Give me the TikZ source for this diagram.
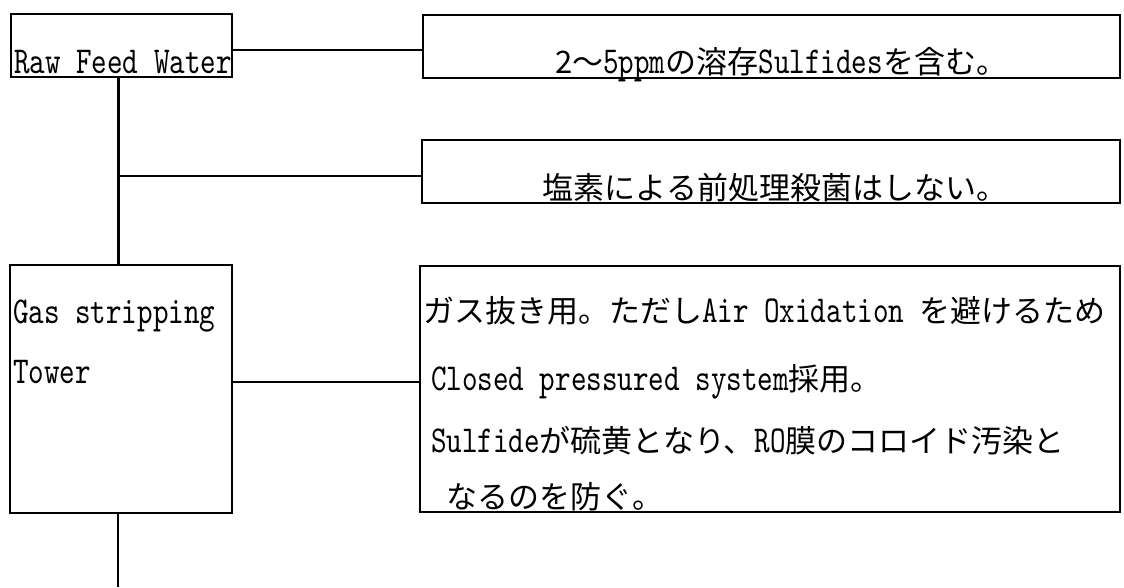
\documentclass[tikz,border=0pt]{standalone}
\usepackage{fontspec}
\setmainfont{Noto Sans CJK JP}
\newfontfamily\latf{lmmono10-regular.otf}[FakeStretch=0.78]
\newcommand\en[1]{{\latf\fontsize{38}{38}\selectfont #1}}
\newcommand\jpsize{\fontsize{31}{31}\selectfont}
\begin{document}
\begin{tikzpicture}[x=1pt,y=-1pt,
  box/.style={draw=black,line width=2.2pt,rectangle,inner sep=0pt,outer sep=0pt},
  txt/.style={inner sep=0pt,outer sep=0pt,font=\jpsize},
  conn/.style={draw=black,line width=2.2pt}]
\useasboundingbox (0,0) rectangle (1124,587);
% boxes
\node[box,minimum width=221pt,minimum height=63pt] (rfw) at (121.5,45.5) {};
\node[box,minimum width=697pt,minimum height=63pt] (b1) at (771.5,46.5) {};
\node[box,minimum width=698pt,minimum height=63pt] (b2) at (771,171.5) {};
\node[box,minimum width=222pt,minimum height=248pt] (gas) at (121,389) {};
\node[box,minimum width=700pt,minimum height=246pt] (b3) at (770,389) {};
% texts
\node[txt,anchor=base west] (t0) at (14,73) {\en{Raw Feed Water}};
\node[txt,anchor=base east] (t1) at (1007,73) {2〜\en{5ppm}の溶存\en{Sulfides}を含む。};
\node[txt,anchor=base east] (t2) at (1007,199) {塩素による前処理殺菌はしない。};
\node[txt,anchor=base west] (t3a) at (13,323) {\en{Gas stripping}};
\node[txt,anchor=base west] (t3b) at (13,383) {\en{Tower}};
\node[txt,anchor=base west] (t4a) at (423,322) {ガス抜き用。ただし\en{Air Oxidation }を避けるため};
\node[txt,anchor=base west] (t4b) at (431,390) {\en{Closed pressured system}採用。};
\node[txt,anchor=base west] (t4c) at (431,452) {\en{Sulfide}が硫黄となり、\en{RO}膜のコロイド汚染と};
\node[txt,anchor=base west] (t4d) at (446,508) {なるのを防ぐ。};
% connectors
\coordinate (j1) at ([yshift=-4.5pt]rfw.east);
\draw[conn] (j1) -- (j1 -| b1.west);
\coordinate (v1) at ([xshift=-3pt]rfw.south);
\draw[conn] (v1) -- (v1 |- gas.north);
\coordinate (j2) at ([yshift=-4.5pt]b2.west);
\draw[conn] (j2 -| v1) -- (j2);
\coordinate (j3) at ([yshift=7pt]gas.east);
\draw[conn] (j3) -- (j3 -| b3.west);
\coordinate (v2) at ([xshift=-3pt]gas.south);
\coordinate (endv) at (v2 |- 0,587);
\draw[conn] (v2) -- (endv);
\end{tikzpicture}
\end{document}
